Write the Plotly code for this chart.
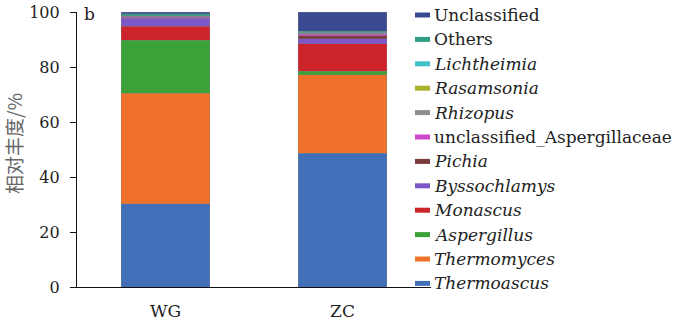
import plotly.graph_objects as go

samples = ["WG", "ZC"]

genera = ["Thermoascus", "Thermomyces", "Aspergillus", "Monascus", "Byssochlamys",
          "Pichia", "unclassified_Aspergillaceae", "Rhizopus", "Rasamsonia",
          "Lichtheimia", "Others", "Unclassified"]
italic = [True, True, True, True, True, True, False, True, True, True, False, False]

WG = [30.2, 40.2, 19.4, 5.1, 2.8, 0.3, 0.2, 0.2, 0.1, 0.1, 0.8, 0.6]
ZC = [48.6, 28.5, 1.4, 9.9, 1.8, 1.2, 0.5, 0.4, 0.2, 0.1, 0.4, 7.0]

colors = ["#4170B8", "#F0722A", "#3BA23A", "#CD232B", "#7E57C6", "#7A3D3D",
          "#CF47CA", "#8E8E8E", "#A8B22B", "#40C0C7", "#2F9E82", "#3A4B94"]

yticks = [0, 20, 40, 60, 80, 100]

SERIF = "DejaVu Serif"

fig = go.Figure()
for i, g in enumerate(genera):
    fig.add_trace(go.Bar(
        x=samples, y=[WG[i], ZC[i]], name=g,
        marker=dict(color=colors[i], line=dict(width=0.5, color="rgba(130,130,130,0.6)")),
        showlegend=False,
    ))

L, R, T, B = 77, 244, 12, 37
W, H = 675, 324
pw, ph = W - L - R, H - T - B

def px_x(px):
    return (px - L) / pw

def px_y(py):
    return (H - B - py) / ph

annotations = []
shapes = []
order = list(range(len(genera)))[::-1]
for k, i in enumerate(order):
    yc = 15 + k * 24.4
    label = f"<i>{genera[i]}</i>" if italic[i] else genera[i]
    annotations.append(dict(
        x=px_x(432), y=px_y(yc), xref="paper", yref="paper",
        text=label, showarrow=False, xanchor="left", yanchor="middle",
        font=dict(family=SERIF, size=17, color="#222222"),
    ))
    shapes.append(dict(
        type="rect", xref="paper", yref="paper",
        x0=px_x(415), x1=px_x(430), y0=px_y(yc + 2.5), y1=px_y(yc - 2.5),
        fillcolor=colors[i], line=dict(width=0),
    ))

annotations.append(dict(
    x=px_x(89), y=px_y(14), xref="paper", yref="paper", text="b",
    showarrow=False, xanchor="center", yanchor="middle",
    font=dict(family=SERIF, size=17, color="#222222"),
))
annotations.append(dict(
    x=px_x(13), y=px_y(144), xref="paper", yref="paper", text="相对丰度/%",
    showarrow=False, xanchor="center", yanchor="middle", textangle=-90,
    font=dict(family="Noto Sans CJK SC", size=19, color="#666666"),
))

fig.update_layout(
    barmode="stack",
    bargap=0.5,
    width=W, height=H,
    margin=dict(l=L, r=R, t=T, b=B, pad=0),
    paper_bgcolor="white", plot_bgcolor="white",
    annotations=annotations, shapes=shapes,
    xaxis=dict(range=[-0.5, 1.5], showline=True, linecolor="#111111", linewidth=1.2,
               ticks="", tickfont=dict(family=SERIF, size=17, color="#222222"),
               ticklabelstandoff=8, showgrid=False, zeroline=False, automargin=False),
    yaxis=dict(range=[0, 100], tickvals=yticks, showline=True, linecolor="#111111",
               linewidth=1.2, ticks="outside", ticklen=6, tickcolor="#111111",
               tickfont=dict(family=SERIF, size=16, color="#222222"),
               ticklabelstandoff=7, showgrid=False, zeroline=False, automargin=False),
)

fig.write_html("out.html")
